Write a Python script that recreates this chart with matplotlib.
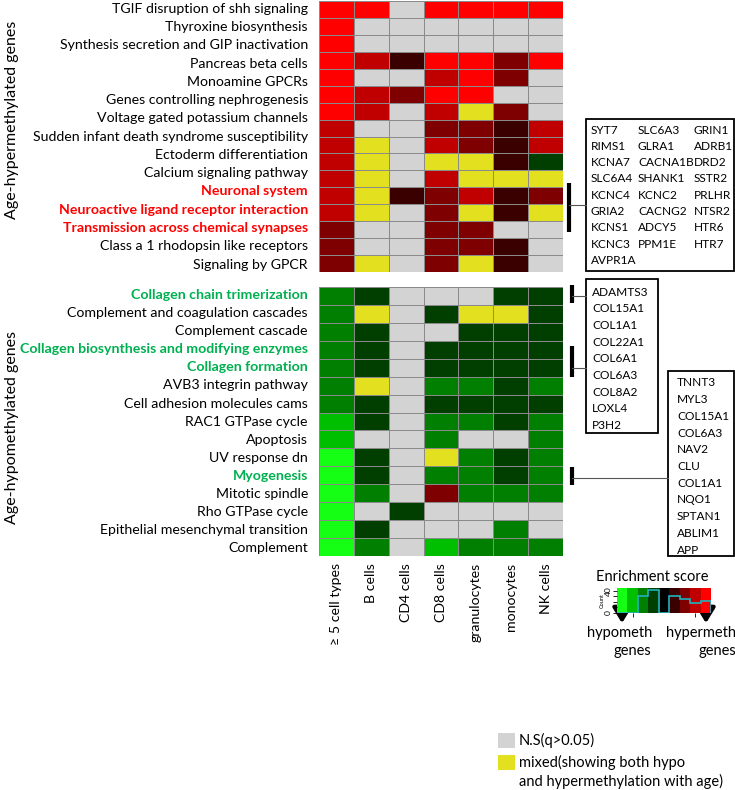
import numpy as np
import matplotlib
matplotlib.use("Agg")
import matplotlib.pyplot as plt
from matplotlib.colors import ListedColormap, BoundaryNorm
from matplotlib.patches import Rectangle

plt.rcParams['font.family'] = ['Lato', 'DejaVu Sans']

# ---------------- data ----------------
cell_types = ["\u2265 5 cell types", "B cells", "CD4 cells", "CD8 cells",
              "granulocytes", "monocytes", "NK cells"]

hyper_pathways = [
    "TGIF disruption of shh signaling",
    "Thyroxine biosynthesis",
    "Synthesis secretion and GIP inactivation",
    "Pancreas beta cells",
    "Monoamine GPCRs",
    "Genes controlling nephrogenesis",
    "Voltage gated potassium channels",
    "Sudden infant death syndrome susceptibility",
    "Ectoderm differentiation",
    "Calcium signaling pathway",
    "Neuronal system",
    "Neuroactive ligand receptor interaction",
    "Transmission across chemical synapses",
    "Class a 1 rhodopsin like receptors",
    "Signaling by GPCR",
]
hyper_highlight = ["Neuronal system", "Neuroactive ligand receptor interaction",
                   "Transmission across chemical synapses"]

# enrichment level: -4..-1 hypo (green), 1..4 hyper (red); "G" = n.s., "Y" = mixed
hyper_scores = [
    [4, 4, "G", 4, 4, 4, 4],
    [4, "G", "G", "G", "G", "G", "G"],
    [4, "G", "G", "G", "G", "G", "G"],
    [4, 3, 1, 4, 4, 2, 4],
    [4, "G", "G", 3, 4, 2, "G"],
    [4, 3, 2, 4, 4, "G", "G"],
    [4, 3, "G", 3, "Y", 2, "G"],
    [3, "G", "G", 2, 2, 1, 3],
    [3, "Y", "G", 3, 2, 1, 3],
    [3, "Y", "G", "Y", "Y", 1, -1],
    [3, "Y", "G", 3, "Y", "Y", "Y"],
    [3, "Y", 1, 2, 3, 1, 2],
    [3, "Y", "G", 2, "Y", 1, "Y"],
    [2, "G", "G", 2, 2, "G", "G"],
    [2, "G", "G", 2, 2, 1, "G"],
    [2, "Y", "G", 2, "Y", 1, "G"],
]

hypo_pathways = [
    "Collagen chain trimerization",
    "Complement and coagulation cascades",
    "Complement cascade",
    "Collagen biosynthesis and modifying enzymes",
    "Collagen formation",
    "AVB3 integrin pathway",
    "Cell adhesion molecules cams",
    "RAC1 GTPase cycle",
    "Apoptosis",
    "UV response dn",
    "Myogenesis",
    "Mitotic spindle",
    "Rho GTPase cycle",
    "Epithelial mesenchymal transition",
    "Complement",
]
hypo_highlight = ["Collagen chain trimerization",
                  "Collagen biosynthesis and modifying enzymes",
                  "Collagen formation", "Myogenesis"]

hypo_scores = [
    [-2, -1, "G", "G", "G", -1, -1],
    [-2, "Y", "G", -1, "Y", "Y", -1],
    [-2, -1, "G", "G", -1, -1, -1],
    [-2, -1, "G", -1, -1, -1, -1],
    [-2, -1, "G", -1, -1, -1, -1],
    [-2, "Y", "G", -2, -2, -1, -2],
    [-2, -1, "G", -1, -1, -1, -1],
    [-3, -1, "G", -2, -2, -1, -2],
    [-3, "G", "G", -2, "G", "G", -2],
    [-4, -1, "G", "Y", -2, -1, -2],
    [-4, -1, "G", -2, -2, -1, -2],
    [-4, -2, "G", 2, -2, -2, -2],
    [-4, "G", -1, "G", "G", "G", "G"],
    [-4, -1, "G", "G", "G", -2, "G"],
    [-4, -2, "G", -3, -2, -2, -2],
]

genes_neuro = [["SYT7", "SLC6A3", "GRIN1"],
               ["RIMS1", "GLRA1", "ADRB1"],
               ["KCNA7", "CACNA1B", "DRD2"],
               ["SLC6A4", "SHANK1", "SSTR2"],
               ["KCNC4", "KCNC2", "PRLHR"],
               ["GRIA2", "CACNG2", "NTSR2"],
               ["KCNS1", "ADCY5", "HTR6"],
               ["KCNC3", "PPM1E", "HTR7"],
               ["AVPR1A", "", ""]]
genes_collagen = ["ADAMTS3", "COL15A1", "COL1A1", "COL22A1", "COL6A1",
                  "COL6A3", "COL8A2", "LOXL4", "P3H2"]
genes_myo = ["TNNT3", "MYL3", "COL15A1", "COL6A3", "NAV2", "CLU", "COL1A1",
             "NQO1", "SPTAN1", "ABLIM1", "APP"]

hist_counts = [0, 0, 30, 42, 0, 30, 25, 18, 22]

# ---------------- styling ----------------
level_colors = {-4: "#14FF14", -3: "#00BF00", -2: "#007F00", -1: "#003F00",
                0: "#000000", 1: "#3A0000", 2: "#7F0000", 3: "#C00000",
                4: "#FF0000", "G": "#D3D3D3", "Y": "#E3E020"}
keys = [-4, -3, -2, -1, 0, 1, 2, 3, 4, "G", "Y"]
cmap = ListedColormap([level_colors[k] for k in keys])
norm = BoundaryNorm(np.arange(-0.5, len(keys) + 0.5, 1), cmap.N)


def to_idx(mat):
    return np.array([[keys.index(v) for v in row] for row in mat], dtype=float)


W, H = 735, 790
fig = plt.figure(figsize=(W / 100, H / 100), dpi=100)


def axrect(x0, y0, x1, y1):
    return [x0 / W, 1 - y1 / H, (x1 - x0) / W, (y1 - y0) / H]


LBL = 10.2
RED = "#FF0000"
GREEN = "#00B050"


def heat(ax, mat, labels, highlight, hl_color, show_x):
    data = to_idx(mat)
    nr, nc = data.shape
    ax.pcolormesh(np.arange(nc + 1), np.arange(nr + 1), data, cmap=cmap,
                  norm=norm, edgecolors="#8A8A8A", linewidth=0.6)
    ax.set_xlim(0, nc)
    ax.set_ylim(nr, 0)
    for s in ax.spines.values():
        s.set_visible(False)
    pos = np.linspace(0.4, nr - 0.5, len(labels))
    ax.set_yticks(pos)
    ax.set_yticklabels(labels, fontsize=LBL)
    ax.tick_params(axis="y", length=0, pad=8)
    for t in ax.get_yticklabels():
        if t.get_text() in highlight:
            t.set_color(hl_color)
            t.set_fontweight("bold")
    if show_x:
        ax.set_xticks(np.arange(nc) + 0.5)
        ax.set_xticklabels(cell_types, rotation=90, fontsize=LBL)
        ax.tick_params(axis="x", length=0, pad=5)
    else:
        ax.set_xticks([])


ax_top = fig.add_axes(axrect(319, 1, 563, 272))
heat(ax_top, hyper_scores, hyper_pathways, hyper_highlight, RED, False)
ax_bot = fig.add_axes(axrect(319, 287, 563, 556))
heat(ax_bot, hypo_scores, hypo_pathways, hypo_highlight, GREEN, True)

fig.text(12 / W, 1 - 120 / H, "Age-hypermethylated genes", rotation=90,
         ha="center", va="center", fontsize=11.5)
fig.text(12 / W, 1 - 428 / H, "Age-hypomethylated genes", rotation=90,
         ha="center", va="center", fontsize=11.5)

# overlay in pixel coordinates
ov = fig.add_axes([0, 0, 1, 1])
ov.set_xlim(0, W)
ov.set_ylim(H, 0)
ov.axis("off")
ov.patch.set_alpha(0)

GS = 8.6
# bracket + box : neuronal
ov.plot([569, 569], [183, 232], color="black", lw=3, solid_capstyle="butt")
ov.plot([569, 586], [205, 205], color="#555555", lw=0.8)
ov.add_patch(Rectangle((586, 119), 148, 152, fill=False, ec="black", lw=1.3))
for i, row in enumerate(genes_neuro):
    for j, g in enumerate(row):
        ov.text([591, 638, 694][j], 130 + 16.3 * i, g, fontsize=GS,
                va="center", ha="left")

# collagen brackets + box
ov.plot([572, 572], [285, 303], color="black", lw=3, solid_capstyle="butt")
ov.plot([572, 586], [296, 296], color="#555555", lw=0.8)
ov.plot([572, 572], [346, 377], color="black", lw=3, solid_capstyle="butt")
ov.plot([572, 586], [368, 368], color="#555555", lw=0.8)
ov.add_patch(Rectangle((586, 279), 72, 154, fill=False, ec="black", lw=1.3))
for i, g in enumerate(genes_collagen):
    ov.text(592, 292 + 16.7 * i, g, fontsize=GS, va="center", ha="left")

# myogenesis bracket + box
ov.plot([572, 572], [467, 485], color="black", lw=3, solid_capstyle="butt")
ov.plot([572, 668], [478, 478], color="#555555", lw=0.8)
ov.add_patch(Rectangle((668, 371), 66, 185, fill=False, ec="black", lw=1.3))
for i, g in enumerate(genes_myo):
    ov.text(677, 383 + 16.7 * i, g, fontsize=GS, va="center", ha="left")

# colour key
ov.text(652, 577, "Enrichment score", fontsize=10.5, ha="center", va="center")
ck = fig.add_axes(axrect(617, 588, 711, 613))
key_levels = [-4, -3, -2, -1, 0, 1, 2, 3, 4]
ck.imshow(np.arange(len(key_levels))[None, :], aspect="auto",
          cmap=ListedColormap([level_colors[k] for k in key_levels]),
          extent=[0, len(key_levels), 0, 45], origin="lower")
ck.stairs(hist_counts, np.arange(len(key_levels) + 1), color="#20B2C0", lw=1.2)
ck.set_xlim(0, len(key_levels))
ck.set_ylim(0, 45)
for s in ck.spines.values():
    s.set_visible(False)
ck.set_yticks([0, 10, 20, 30, 40])
ck.set_yticklabels(["0", "", "", "", "40"], fontsize=6, rotation=90, va="center")
ck.tick_params(axis="y", length=3, pad=1, width=0.6)
ck.set_xticks([1.5, 7.5])
ck.set_xticklabels([])
ck.tick_params(axis="x", length=3, width=0.6)
ck.set_ylabel("Count", fontsize=4, labelpad=0)

for xa in (622, 706):
    ov.annotate("", xy=(xa, 626), xytext=(xa, 603),
                arrowprops=dict(arrowstyle="-|>,head_width=0.55,head_length=0.9",
                                color="black", lw=3))
ov.text(620, 633, "hypometh", fontsize=10.5, ha="center", va="center")
ov.text(632, 651, "genes", fontsize=10.5, ha="center", va="center")
ov.text(701, 633, "hypermeth", fontsize=10.5, ha="center", va="center")
ov.text(717, 651, "genes", fontsize=10.5, ha="center", va="center")

# legend
ov.add_patch(Rectangle((498, 733), 17, 15, color=level_colors["G"], lw=0))
ov.text(519, 740, "N.S(q>0.05)", fontsize=10.5, va="center", ha="left")
ov.add_patch(Rectangle((498, 755), 17, 15, color=level_colors["Y"], lw=0))
ov.text(519, 762, "mixed(showing both hypo", fontsize=10.5, va="center", ha="left")
ov.text(519, 781, "and hypermethylation with age)", fontsize=10.5,
        va="center", ha="left")

fig.savefig("out.png", dpi=100)
